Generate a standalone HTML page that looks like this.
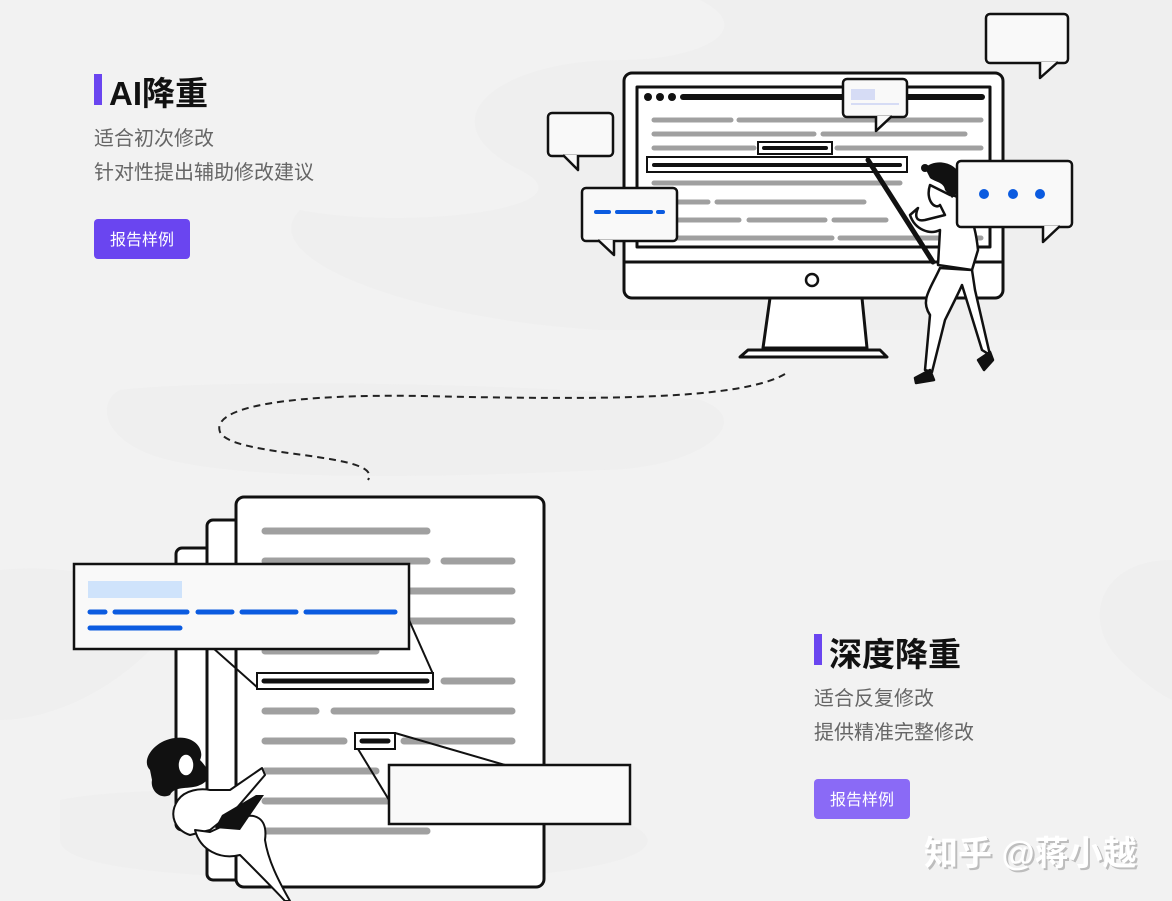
<!DOCTYPE html>
<html><head><meta charset="utf-8"><style>
html,body{margin:0;padding:0;width:1172px;height:901px;overflow:hidden;background:#f2f2f2;}
svg{position:absolute;left:0;top:0}
.t{font-family:"Liberation Sans","Noto Sans CJK SC",sans-serif;}
</style></head><body>
<svg width="1172" height="901" viewBox="0 0 1172 901" xmlns="http://www.w3.org/2000/svg" class="t">
<g fill="#eeeeee">
<path d="M700,0 C760,30 700,60 620,60 C500,60 420,120 520,170 C600,210 400,230 300,210 C250,260 420,320 600,330 L1172,330 L1172,0 Z" opacity="0.7"/>
<path d="M120,390 C200,380 500,380 700,400 C760,420 700,470 600,470 C400,480 200,480 140,450 C100,430 100,400 120,390 Z" opacity="0.8"/>
<path d="M0,570 C100,560 200,600 150,650 C100,700 40,720 0,720 Z" opacity="0.8"/>
<path d="M60,800 C150,780 500,790 620,820 C700,850 600,880 400,880 C200,880 60,870 60,840 Z" opacity="0.7"/>
<path d="M1172,560 C1100,560 1080,620 1120,660 C1150,690 1172,700 1172,700 Z" opacity="0.8"/>
</g>

<rect x="94" y="74" width="8" height="31" fill="#6a45f0"/>
<text x="109" y="105" font-size="33" font-weight="bold" fill="#111">AI降重</text>
<text x="94" y="145" font-size="20" fill="#666">适合初次修改</text>
<text x="94" y="179" font-size="20" fill="#666">针对性提出辅助修改建议</text>
<rect x="94" y="219" width="96" height="40" rx="4" fill="#6a45f0"/>
<text x="142" y="245" font-size="16" fill="#fff" text-anchor="middle">报告样例</text>

<rect x="814" y="634" width="8" height="31" fill="#6a45f0"/>
<text x="829" y="666" font-size="33" font-weight="bold" fill="#111">深度降重</text>
<text x="814" y="705" font-size="20" fill="#666">适合反复修改</text>
<text x="814" y="739" font-size="20" fill="#666">提供精准完整修改</text>
<rect x="814" y="779" width="96" height="40" rx="4" fill="#8a6af6"/>
<text x="862" y="805" font-size="16" fill="#fff" text-anchor="middle">报告样例</text>

<text x="926" y="867" font-size="34" font-weight="bold" fill="#9a9a9a" opacity="0.6">知乎 @蒋小越</text>
<text x="924" y="865" font-size="34" font-weight="bold" fill="#fff">知乎 @蒋小越</text>

<path d="M785,374 C740,400 600,400 420,396 C300,394 210,405 220,432 C232,458 385,452 368,480" fill="none" stroke="#222" stroke-width="2" stroke-dasharray="7,5"/>

<g stroke="#111" stroke-width="3" fill="#fff" stroke-linejoin="round">
<path d="M770,298 L862,298 L867,348 L763,348 Z"/>
<path d="M748,350 L880,350 L887,357 L740,357 Z"/>
<rect x="624" y="73" width="379" height="225" rx="8"/>
<line x1="624" y1="262" x2="1003" y2="262"/>
<rect x="637" y="87" width="353" height="160" fill="#fff"/>
</g>
<circle cx="812" cy="280" r="6" fill="none" stroke="#111" stroke-width="2.5"/>
<g fill="#111"><circle cx="648" cy="97" r="4"/><circle cx="660" cy="97" r="4"/><circle cx="672" cy="97" r="4"/></g>
<g stroke-linecap="round" stroke="#a0a0a0" stroke-width="5">
<line x1="683" y1="97" x2="982" y2="97" stroke="#111" stroke-width="6"/>
<line x1="654" y1="120" x2="731" y2="120"/><line x1="739" y1="120" x2="981" y2="120"/>
<line x1="654" y1="134" x2="814" y2="134"/><line x1="823" y1="134" x2="965" y2="134"/>
<line x1="654" y1="148" x2="754" y2="148"/><line x1="837" y1="148" x2="981" y2="148"/>
<line x1="654" y1="183" x2="900" y2="183"/>
<line x1="672" y1="202" x2="708" y2="202"/><line x1="717" y1="202" x2="864" y2="202"/>
<line x1="672" y1="220" x2="739" y2="220"/><line x1="749" y1="220" x2="825" y2="220"/><line x1="834" y1="220" x2="886" y2="220"/>
<line x1="672" y1="238" x2="832" y2="238"/><line x1="840" y1="238" x2="981" y2="238"/>
</g>
<rect x="758" y="142" width="74" height="12" fill="#fff" stroke="#111" stroke-width="2"/>
<line x1="764" y1="148" x2="826" y2="148" stroke="#111" stroke-width="4" stroke-linecap="round"/>
<rect x="647" y="157" width="260" height="15" fill="#fff" stroke="#111" stroke-width="2"/>
<line x1="654" y1="165" x2="900" y2="165" stroke="#111" stroke-width="4" stroke-linecap="round"/>

<g stroke="#111" stroke-width="2.5" fill="#f9f9f9" stroke-linejoin="round">
<rect x="986" y="14" width="82" height="49" rx="4"/>
<path d="M1040,62 L1040,78 L1058,62" />
<rect x="548" y="113" width="65" height="43" rx="4"/>
<path d="M563,155 L578,170 L578,155"/>
<rect x="843" y="79" width="64" height="38" rx="4"/>
<path d="M876,116 L876,131 L892,116"/>
<rect x="582" y="188" width="95" height="53" rx="4"/>
<path d="M598,240 L614,255 L614,240"/>
</g>
<rect x="851" y="89" width="24" height="11" fill="#d6dcf5"/>
<line x1="851" y1="104" x2="899" y2="104" stroke="#d6dcf5" stroke-width="2"/>
<g stroke="#0b5be0" stroke-width="4" stroke-linecap="round">
<line x1="596" y1="212" x2="609" y2="212"/><line x1="617" y1="212" x2="651" y2="212"/><line x1="658" y1="212" x2="663" y2="212"/>
</g>

<g stroke="#111" stroke-width="2.5" fill="#fff" stroke-linejoin="round">
<path d="M930,185 C925,200 935,210 940,205 L945,215 L925,220 C915,222 915,215 918,208 L910,215 C915,230 930,235 940,230 L938,265 L972,270 L978,250 C975,220 965,195 950,195 Z"/>
<path d="M940,268 C930,290 920,300 930,315 L925,370 L932,372 L945,320 C955,300 960,290 962,285 L982,350 L990,355 L975,290 L972,270 Z"/>
<path d="M915,378 L930,370 L934,380 L916,383 Z" fill="#111"/>
<path d="M978,360 L990,352 L993,360 L984,370 Z" fill="#111"/>
</g>
<line x1="868" y1="160" x2="933" y2="262" stroke="#111" stroke-width="5" stroke-linecap="round"/>
<path d="M925,168 C935,158 955,162 960,175 C962,190 955,196 952,198 L945,190 C944,182 935,182 930,178 Z" fill="#111"/>
<circle cx="925" cy="168" r="4" fill="#111"/>

<g stroke="#111" stroke-width="2.5" fill="#f9f9f9" stroke-linejoin="round">
<rect x="957" y="161" width="115" height="66" rx="4"/>
<path d="M1043,226 L1043,242 L1060,226"/>
</g>
<g fill="#0b5be0"><circle cx="984" cy="194" r="5"/><circle cx="1013" cy="194" r="5"/><circle cx="1040" cy="194" r="5"/></g>

<g stroke="#111" stroke-width="3" fill="#fff" stroke-linejoin="round">
<rect x="176" y="548" width="80" height="282" rx="6"/>
<rect x="207" y="520" width="60" height="360" rx="6"/>
<rect x="236" y="497" width="308" height="390" rx="8"/>
</g>
<g stroke-linecap="round" stroke="#a0a0a0" stroke-width="7">
<line x1="265" y1="531" x2="427" y2="531"/>
<line x1="265" y1="561" x2="427" y2="561"/><line x1="444" y1="561" x2="512" y2="561"/>
<line x1="410" y1="591" x2="512" y2="591"/>
<line x1="410" y1="621" x2="512" y2="621"/>
<line x1="265" y1="651" x2="376" y2="651"/>
<line x1="444" y1="681" x2="512" y2="681"/>
<line x1="265" y1="711" x2="316" y2="711"/><line x1="334" y1="711" x2="512" y2="711"/>
<line x1="265" y1="741" x2="344" y2="741"/><line x1="404" y1="741" x2="512" y2="741"/>
<line x1="265" y1="771" x2="376" y2="771"/>
<line x1="265" y1="801" x2="390" y2="801"/>
<line x1="265" y1="831" x2="427" y2="831"/>
</g>
<g stroke="#111" stroke-width="2" fill="none">
<line x1="213" y1="648" x2="258" y2="688"/>
<line x1="409" y1="620" x2="433" y2="674"/>
<line x1="395" y1="733" x2="505" y2="765"/>
<line x1="358" y1="749" x2="389" y2="800"/>
</g>
<rect x="257" y="673" width="176" height="16" fill="#fff" stroke="#111" stroke-width="2"/>
<line x1="264" y1="681" x2="427" y2="681" stroke="#111" stroke-width="5" stroke-linecap="round"/>
<rect x="355" y="733" width="40" height="16" fill="#fff" stroke="#111" stroke-width="2"/>
<line x1="362" y1="741" x2="388" y2="741" stroke="#111" stroke-width="5" stroke-linecap="round"/>
<rect x="74" y="564" width="335" height="85" fill="#f9f9f9" stroke="#111" stroke-width="2.5"/>
<rect x="88" y="581" width="94" height="17" fill="#cfe3fb"/>
<g stroke="#0b5be0" stroke-width="5" stroke-linecap="round">
<line x1="90" y1="612" x2="105" y2="612"/><line x1="115" y1="612" x2="187" y2="612"/><line x1="198" y1="612" x2="232" y2="612"/><line x1="242" y1="612" x2="296" y2="612"/><line x1="306" y1="612" x2="395" y2="612"/>
<line x1="90" y1="628" x2="180" y2="628"/>
</g>
<rect x="389" y="765" width="241" height="59" fill="#f9f9f9" stroke="#111" stroke-width="2.5"/>

<g stroke="#111" stroke-width="2" fill="#fff" stroke-linejoin="round">
<path d="M178,800 C168,815 175,830 190,835 L210,830 L235,810 L265,775 L262,768 L230,790 L210,790 C200,788 185,790 178,800 Z"/>
<path d="M195,830 C200,850 220,860 240,855 C255,870 270,885 285,901 L290,901 C278,880 268,860 265,840 C268,818 255,812 240,818 L210,832 Z"/>
</g>
<path d="M150,770 C140,760 155,740 175,738 C195,735 205,750 200,760 C210,770 212,780 200,785 C190,790 175,785 170,795 C160,800 150,790 152,780 Z" fill="#111"/>
<ellipse cx="186" cy="765" rx="8" ry="11" fill="#fff" stroke="#111" stroke-width="1.5"/>
<path d="M222,815 L256,795 L264,795 L240,830 L215,828 Z" fill="#111"/>
</svg>
</body></html>
